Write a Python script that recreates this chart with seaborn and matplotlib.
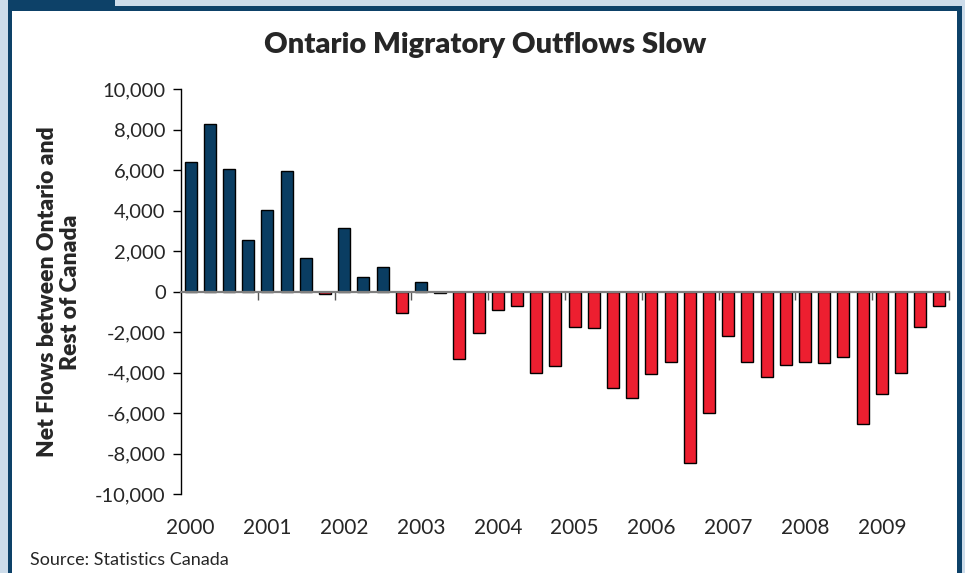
import numpy as np
import pandas as pd
import matplotlib
matplotlib.use("Agg")
import matplotlib.pyplot as plt
import matplotlib.ticker as mticker
from matplotlib.patches import Rectangle
import seaborn as sns

# ---- data ----
years = ["2000", "2001", "2002", "2003", "2004", "2005", "2006", "2007", "2008", "2009"]
quarters = ["Q1", "Q2", "Q3", "Q4"]
net_flows = [
    6400, 8300, 6080, 2570,
    4050, 5960, 1650, -130,
    3130, 710, 1235, -1040,
    495, -65, -3340, -2025,
    -920, -710, -4020, -3655,
    -1760, -1810, -4740, -5270,
    -4080, -3475, -8465, -5980,
    -2190, -3460, -4230, -3620,
    -3475, -3525, -3210, -6550,
    -5040, -4030, -1760, -710,
]
title = "Ontario Migratory Outflows Slow"
ylabel = "Net Flows between Ontario and\nRest of Canada"
source = "Source: Statistics Canada"
y_ticks = list(range(-10000, 10001, 2000))

labels = [f"{y} {q}" for y in years for q in quarters]
df = pd.DataFrame({"period": labels, "value": net_flows})
df["sign"] = np.where(df["value"] >= 0, "pos", "neg")

NAVY = "#0a3d62"
RED = "#ed1f30"

sns.set_style("white")
plt.rcParams["font.family"] = ["Lato", "DejaVu Sans"]

fig = plt.figure(figsize=(9.65, 5.73), dpi=100)
fig.patch.set_facecolor("#cddcea")
# frame
W, H = 965, 573
def px_rect(x0, y0, x1, y1, color):
    fig.patches.append(Rectangle((x0 / W, 1 - y1 / H), (x1 - x0) / W, (y1 - y0) / H,
                                 transform=fig.transFigure, facecolor=color,
                                 edgecolor="none", zorder=-10))
px_rect(8, 6, 962, 573, "#0d4168")
px_rect(8, 0, 115, 6, "#0d4168")
px_rect(12, 11, 957, 573, "white")

ax = fig.add_axes([181 / W, 1 - 494 / H, 768 / W, (494 - 89.3) / H])
ax.set_facecolor("none")

sns.barplot(data=df, x="period", y="value", hue="sign",
            palette={"pos": NAVY, "neg": RED}, saturation=1, width=0.625,
            edgecolor="black", linewidth=1.0, legend=False, ax=ax, zorder=3)

ax.set_xlim(-0.5, len(net_flows) - 0.5)
ax.set_ylim(-10000, 10000)
ax.set_yticks(y_ticks)
ax.yaxis.set_major_formatter(mticker.FuncFormatter(lambda v, p: f"{int(v):,}"))
ax.tick_params(axis="y", direction="out", length=6, width=1, color="black",
               labelsize=14.5, pad=5, left=True)

for s in ["top", "right"]:
    ax.spines[s].set_visible(False)
ax.spines["left"].set_color("black")
ax.spines["left"].set_linewidth(1.0)
ax.spines["bottom"].set_position(("data", 0))
ax.spines["bottom"].set_color("#7f7f7f")
ax.spines["bottom"].set_linewidth(1.6)
ax.spines["bottom"].set_zorder(4)

# year boundary tick marks on the zero line
ax.set_xticks([4 * i - 0.5 for i in range(1, len(years) + 1)])
ax.set_xticklabels([])
ax.tick_params(axis="x", direction="out", length=6, width=1, color="#555555", bottom=True)
ax.set_xlabel("")
ax.set_ylabel("")

# year labels at bottom
for i, y in enumerate(years):
    ax.text(4 * i, -0.085, y, transform=ax.get_xaxis_transform(),
            ha="center", va="center", fontsize=15)

fig.text(485 / W, 1 - 45 / H, title, ha="center", va="center",
         fontsize=21, fontweight="heavy")
fig.text(59 / W, 1 - 292 / H, ylabel, ha="center", va="center", rotation=90,
         fontsize=16.5, fontweight="heavy", linespacing=1.15)
fig.text(30 / W, 1 - 560 / H, source, ha="left", va="center", fontsize=13)

fig.savefig("out.png", dpi=100, facecolor=fig.get_facecolor())
